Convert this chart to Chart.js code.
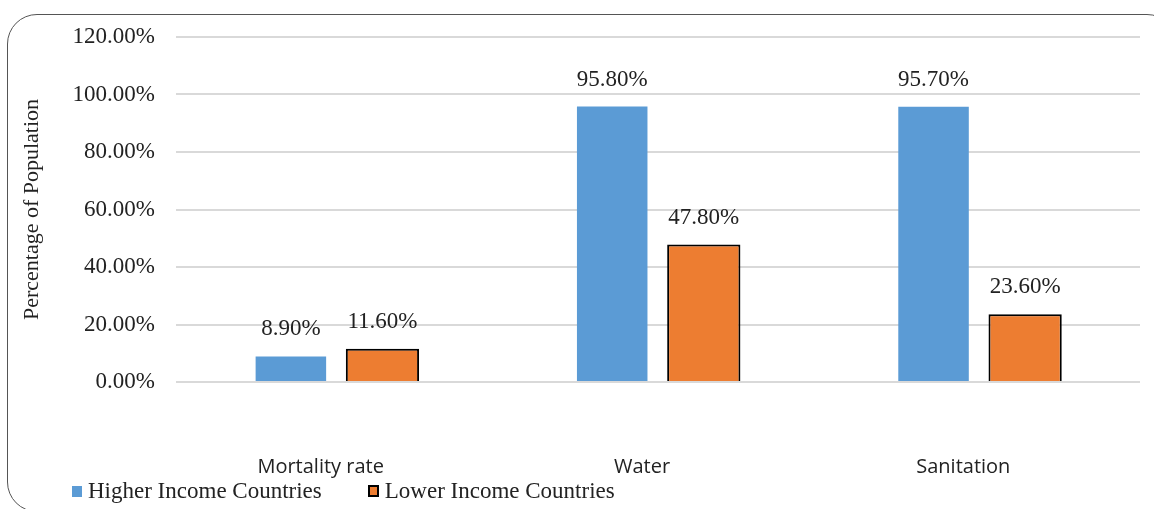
<!DOCTYPE html>
<html>
<head>
<meta charset="utf-8">
<script src="https://cdn.jsdelivr.net/npm/chart.js@4"></script>
<style>
  html, body { margin: 0; padding: 0; background: #fff; }
  #wrap { position: relative; width: 1154px; height: 509px; overflow: hidden; }
  #frame {
    position: absolute; left: 7px; top: 14px; width: 1170px; height: 498px;
    border: 1.5px solid #555; border-radius: 30px; box-sizing: border-box;
  }
  #chart { position: absolute; left: 0; top: 0; }
  #legend {
    position: absolute; left: 72px; top: 478px;
    font-family: "Liberation Serif", "Times New Roman", serif; font-size: 23px; color: #222;
    display: flex; white-space: nowrap;
  }
  #legend .item { display: flex; align-items: center; margin-right: 46px; }
  #legend .box { width: 10px; height: 11px; margin-right: 6px; box-sizing: border-box; }
</style>
</head>
<body>
<div id="wrap">
  <div id="frame"></div>
  <canvas id="chart" width="1154" height="509"></canvas>
  <div id="legend"></div>
</div>
<script>
const categories = ['Mortality rate', 'Water', 'Sanitation'];
const seriesNames = ['Higher Income Countries', 'Lower Income Countries'];
const higherIncome = [8.9, 95.8, 95.7];
const lowerIncome = [11.6, 47.8, 23.6];
const yTicks = [0, 20, 40, 60, 80, 100, 120];

const serif = '"Liberation Serif", "Times New Roman", serif';
const textColor = '#222';

// value labels above each bar
const barLabels = {
  id: 'barLabels',
  afterDatasetsDraw(chart) {
    const ctx = chart.ctx;
    ctx.save();
    ctx.font = '23px ' + serif;
    ctx.fillStyle = textColor;
    ctx.textAlign = 'center';
    ctx.textBaseline = 'middle';
    chart.data.datasets.forEach((ds, i) => {
      chart.getDatasetMeta(i).data.forEach((bar, j) => {
        ctx.fillText(ds.data[j].toFixed(2) + '%', bar.x, bar.y - 27);
      });
    });
    ctx.restore();
  }
};

const chart = new Chart(document.getElementById('chart'), {
  type: 'bar',
  data: {
    labels: categories,
    datasets: [
      {
        label: seriesNames[0],
        data: higherIncome,
        backgroundColor: '#5B9BD5',
        borderWidth: 0,
        barPercentage: 0.77
      },
      {
        label: seriesNames[1],
        data: lowerIncome,
        backgroundColor: '#ED7D31',
        borderColor: '#000',
        borderWidth: 2,
        barPercentage: 0.8
      }
    ]
  },
  options: {
    responsive: false,
    animation: false,
    events: [],
    categoryPercentage: 0.57,
    layout: { padding: { left: 15, right: 14, top: 37, bottom: 27 } },
    plugins: {
      legend: { display: false },
      tooltip: { enabled: false }
    },
    scales: {
      x: {
        grid: { display: false },
        border: { display: false },
        ticks: {
          padding: 65,
          labelOffset: -16,
          color: textColor,
          font: { family: '"Open Sans", sans-serif', size: 20 }
        },
        afterFit(scale) { scale.height = 100; }
      },
      y: {
        min: 0,
        max: 120,
        afterBuildTicks(scale) { scale.ticks = yTicks.map(v => ({ value: v })); },
        afterFit(scale) { scale.width = 161; },
        grid: { color: '#d9d9d9', lineWidth: 2, drawTicks: false },
        border: { display: false },
        ticks: {
          padding: 21,
          color: textColor,
          font: { family: serif, size: 23 },
          callback: v => v.toFixed(2) + '%'
        },
        title: {
          display: true,
          text: 'Percentage of Population',
          color: textColor,
          font: { family: serif, size: 22 },
          padding: { top: 4, bottom: 4, y: -6 }
        }
      }
    }
  },
  plugins: [barLabels]
});

// legend built from the datasets
const legend = document.getElementById('legend');
chart.data.datasets.forEach(ds => {
  const item = document.createElement('div');
  item.className = 'item';
  const box = document.createElement('span');
  box.className = 'box';
  box.style.background = ds.backgroundColor;
  if (ds.borderWidth) {
    box.style.border = ds.borderWidth + 'px solid ' + ds.borderColor;
    box.style.width = '11px';
    box.style.height = '12px';
  }
  item.appendChild(box);
  item.appendChild(document.createTextNode(ds.label));
  legend.appendChild(item);
});
</script>
</body>
</html>
